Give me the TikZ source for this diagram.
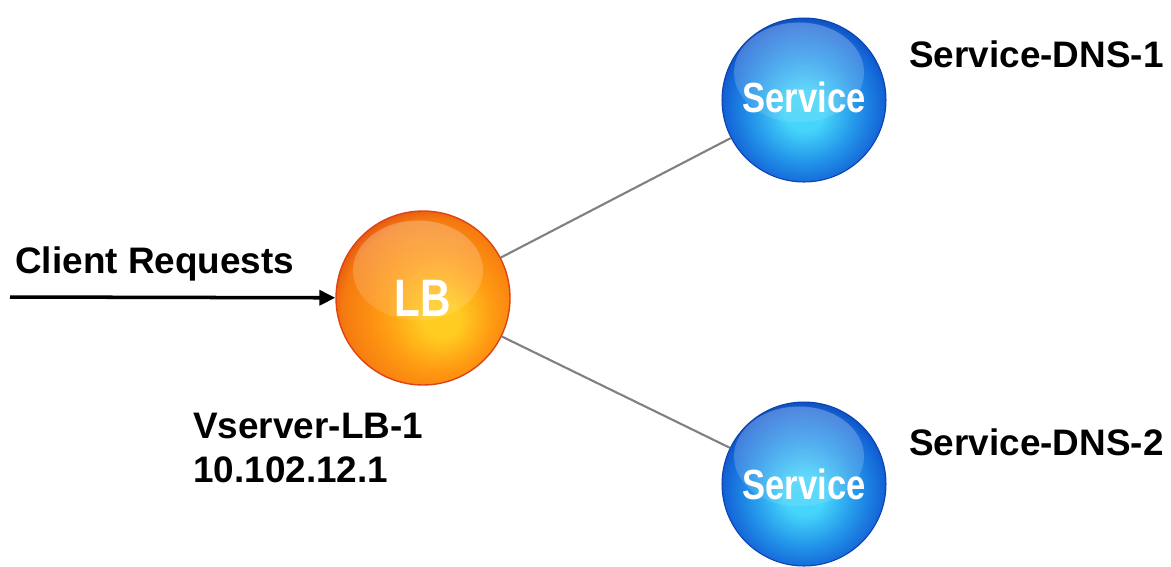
\documentclass[tikz,border=0pt]{standalone}
\usepackage{fontspec}
\setmainfont{Liberation Sans}
\usetikzlibrary{arrows.meta,fadings}

\definecolor{lbyellow}{HTML}{FFCC22}
\definecolor{lborange}{HTML}{FF9A12}
\definecolor{lbdeep}{HTML}{F57A10}
\definecolor{lbred}{HTML}{DD4412}
\definecolor{svccyan}{HTML}{45D4FA}
\definecolor{svcmid}{HTML}{2496EA}
\definecolor{svcblue}{HTML}{1466D8}
\definecolor{svcdark}{HTML}{0A42B0}

\pgfdeclareradialshading{lbshade}{\pgfpoint{6bp}{-7bp}}{%
  color(0bp)=(lbyellow); color(5bp)=(lbyellow); color(16bp)=(lborange);
  color(26bp)=(lbdeep); color(31bp)=(lbred); color(50bp)=(lbred)}
\pgfdeclareradialshading{svcshade}{\pgfpoint{0bp}{-4bp}}{%
  color(0bp)=(svccyan); color(6bp)=(svccyan); color(16bp)=(svcmid);
  color(24bp)=(svcblue); color(29bp)=(svcdark); color(50bp)=(svcdark)}
\tikzfading[name=glossfade, top color=transparent!0, bottom color=transparent!100]

\begin{document}
\begin{tikzpicture}[x=0.02cm, y=-0.02cm, >={Triangle[length=0.32cm, width=0.3cm]},
  ball/.style={circle, inner sep=0pt, text=white,
    path picture={\fill[white, fill opacity=.28, path fading=glossfade]
      ([xshift=-0.1cm, yshift=0.55cm]path picture bounding box.center) ellipse [x radius=1.3cm, y radius=1cm];}},
  lbball/.style={ball, minimum size=3.48cm, shading=lbshade, draw=lbred, line width=0.8pt},
  svcball/.style={ball, minimum size=3.28cm, shading=svcshade, draw=svcdark, line width=0.6pt},
  caption/.style={anchor=base west, inner sep=0pt, font=\fontsize{21}{25}\selectfont\bfseries},
  link/.style={draw=gray, line width=1.2pt}]

\useasboundingbox (0,0) rectangle (1171,566);

% Nodes
\node[lbball] (lb) at (423,298) {\fontsize{30}{30}\selectfont\bfseries\scalebox{0.8}[1]{LB}};
\node[svcball] (svc1) at (804,100) {\fontsize{24}{24}\selectfont\bfseries\raisebox{0.1cm}{\scalebox{0.82}[1]{Service}}};
\node[svcball] (svc2) at (804,484) {\fontsize{24}{24}\selectfont\bfseries\scalebox{0.82}[1]{Service}};
\coordinate (in) at (10,297);

% Labels
\node[caption] (client) at (15,273) {Client Requests};
\node[caption] (dns1) at (909,67) {Service-DNS-1};
\node[caption] (dns2) at (909,455) {Service-DNS-2};
\node[caption] (vsrv) at (193,438) {Vserver-LB-1};
\node[caption] (vip) at (193,482) {10.102.12.1};

% Connections
\draw[->, line width=2pt] (in) -- (lb);
\path[link] (lb) -- (svc1);
\path[link] (lb) -- (svc2);

\end{tikzpicture}
\end{document}
